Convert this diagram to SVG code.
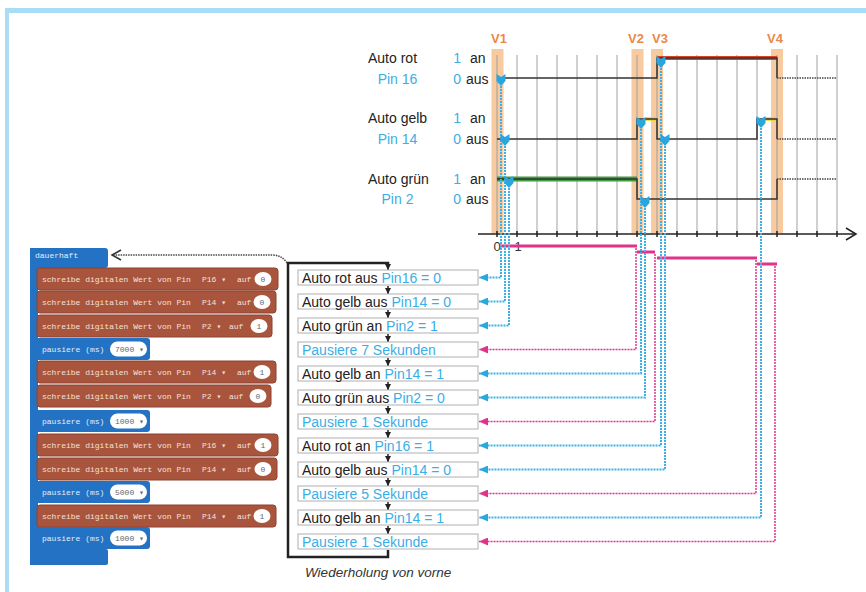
<svg xmlns="http://www.w3.org/2000/svg" width="866" height="592" viewBox="0 0 866 592">
<style>
.sans{font-family:"Liberation Sans",Arial,sans-serif}
.lbl{font-family:"Liberation Sans",Arial,sans-serif;font-size:14px;fill:#222}
.vl{font-family:"Liberation Sans",Arial,sans-serif;font-size:13px;font-weight:bold;fill:#e8894a;text-anchor:middle}
.grid{stroke:#a0a0a0;stroke-width:1}
.sig{stroke:#333;stroke-width:1.5;fill:none}
.dot{stroke:#444;stroke-width:1.5;stroke-dasharray:1.5 1;fill:none}
.band{fill:#f8caa0}
.bc{stroke:#3fb0e6;stroke-width:2;stroke-dasharray:2 1;fill:none;marker-end:url(#ab)}
.pc{stroke:#e2338c;stroke-width:1.5;stroke-dasharray:2 1;fill:none;marker-end:url(#ap)}
.bar{stroke:#e2338c;stroke-width:3}
.mk{fill:#2aa6df}
.box{fill:#fff;stroke:#b0b0b0;stroke-width:1}
.bt{font-family:"Liberation Sans",Arial,sans-serif;font-size:14px;fill:#222}
.mono{font-family:"Liberation Mono","DejaVu Sans Mono",monospace;font-size:8px}
.brown{fill:#a9553e;stroke:#8c4330;stroke-width:1}
.bluek{fill:#2472c4}
.wt{fill:#f4e0d8}
.wb{fill:#e3eef9}
.ovt{fill:#666;text-anchor:middle}
.loop{stroke:#222;stroke-width:2.5;fill:none}
.sa{stroke:#222;stroke-width:1.5;marker-end:url(#ak)}
.blu{fill:#3aaee6}
</style>
<defs>
<marker id="ab" markerUnits="userSpaceOnUse" markerWidth="9" markerHeight="8" refX="9" refY="4" orient="auto"><path d="M0,0 L9,4 L0,8 z" fill="#29a8e0"/></marker>
<marker id="ap" markerUnits="userSpaceOnUse" markerWidth="9" markerHeight="8" refX="9" refY="4" orient="auto"><path d="M0,0 L9,4 L0,8 z" fill="#e2338c"/></marker>
<marker id="ak" markerUnits="userSpaceOnUse" markerWidth="6" markerHeight="6" refX="6" refY="3" orient="auto"><path d="M0,0 L6,3 L0,6 z" fill="#222"/></marker>
<path id="mkr" d="M-4.5,-6 L0,-3 L4.5,-6 L4.5,1 L0,6 L-4.5,1 Z"/>
</defs>
<rect width="866" height="592" fill="#fff"/>
<rect x="5" y="8" width="861" height="5" fill="#a9ddf5"/>
<rect x="5" y="8" width="4" height="584" fill="#a9ddf5"/>

<g id="chart">
<rect class="band" x="491.5" y="49" width="12" height="184"/>
<rect class="band" x="631.5" y="49" width="12" height="184"/>
<rect class="band" x="651" y="49" width="12" height="184"/>
<rect class="band" x="771" y="49" width="12" height="184"/>
<text class="vl" x="499" y="43">V1</text>
<text class="vl" x="636" y="43">V2</text>
<text class="vl" x="660" y="43">V3</text>
<text class="vl" x="775" y="43">V4</text>
<g class="grid">
<line x1="497" y1="55" x2="497" y2="234"/><line x1="517" y1="55" x2="517" y2="234"/><line x1="537" y1="55" x2="537" y2="234"/><line x1="557" y1="55" x2="557" y2="234"/><line x1="577" y1="55" x2="577" y2="234"/><line x1="597" y1="55" x2="597" y2="234"/><line x1="617" y1="55" x2="617" y2="234"/><line x1="637" y1="55" x2="637" y2="234"/><line x1="657" y1="55" x2="657" y2="234"/><line x1="677" y1="55" x2="677" y2="234"/><line x1="697" y1="55" x2="697" y2="234"/><line x1="717" y1="55" x2="717" y2="234"/><line x1="737" y1="55" x2="737" y2="234"/><line x1="757" y1="55" x2="757" y2="234"/><line x1="777" y1="55" x2="777" y2="234"/><line x1="797" y1="55" x2="797" y2="234"/><line x1="817" y1="55" x2="817" y2="234"/><line x1="837" y1="55" x2="837" y2="234"/>
</g>
<line x1="478" y1="234" x2="856" y2="234" stroke="#222" stroke-width="1.5"/>
<polyline points="846,228 856,234 846,240" fill="none" stroke="#222" stroke-width="1.5"/>
<g stroke="#222" stroke-width="1.5">
<line x1="497" y1="231" x2="497" y2="237"/><line x1="517" y1="231" x2="517" y2="237"/><line x1="537" y1="231" x2="537" y2="237"/><line x1="557" y1="231" x2="557" y2="237"/><line x1="577" y1="231" x2="577" y2="237"/><line x1="597" y1="231" x2="597" y2="237"/><line x1="617" y1="231" x2="617" y2="237"/><line x1="637" y1="231" x2="637" y2="237"/><line x1="657" y1="231" x2="657" y2="237"/><line x1="677" y1="231" x2="677" y2="237"/><line x1="697" y1="231" x2="697" y2="237"/><line x1="717" y1="231" x2="717" y2="237"/><line x1="737" y1="231" x2="737" y2="237"/><line x1="757" y1="231" x2="757" y2="237"/><line x1="777" y1="231" x2="777" y2="237"/><line x1="797" y1="231" x2="797" y2="237"/><line x1="817" y1="231" x2="817" y2="237"/><line x1="837" y1="231" x2="837" y2="237"/>
</g>
<text class="sans" x="497" y="251" font-size="13" fill="#333" text-anchor="middle">0</text>
<text class="sans" x="518" y="251" font-size="13" fill="#333" text-anchor="middle">1</text>

<text class="lbl" x="368" y="63">Auto rot</text>
<text class="lbl blu" x="397.5" y="84" text-anchor="middle">Pin 16</text>
<text class="lbl" x="368" y="123">Auto gelb</text>
<text class="lbl blu" x="397.5" y="144" text-anchor="middle">Pin 14</text>
<text class="lbl" x="368" y="184">Auto grün</text>
<text class="lbl blu" x="397.5" y="204" text-anchor="middle">Pin 2</text>
<text class="lbl blu" x="461" y="63" text-anchor="end">1</text><text class="lbl" x="470" y="63">an</text>
<text class="lbl blu" x="461" y="84" text-anchor="end">0</text><text class="lbl" x="466" y="84">aus</text>
<text class="lbl blu" x="461" y="123" text-anchor="end">1</text><text class="lbl" x="470" y="123">an</text>
<text class="lbl blu" x="461" y="144" text-anchor="end">0</text><text class="lbl" x="466" y="144">aus</text>
<text class="lbl blu" x="461" y="184" text-anchor="end">1</text><text class="lbl" x="470" y="184">an</text>
<text class="lbl blu" x="461" y="204" text-anchor="end">0</text><text class="lbl" x="466" y="204">aus</text>

<line x1="657" y1="58" x2="777" y2="58" stroke="#d6452a" stroke-width="4"/>
<polyline class="sig" points="497,78 657,78 657,58 777,58 777,78"/>
<line class="dot" x1="777" y1="78" x2="837" y2="78"/>
<line x1="645" y1="119" x2="656" y2="119" stroke="#f0d020" stroke-width="3.5"/>
<line x1="765" y1="119" x2="776" y2="119" stroke="#f0d020" stroke-width="3.5"/>
<polyline class="sig" points="497,139 637,139 637,119 657,119 657,139 757,139 757,119 777,119 777,139"/>
<line class="dot" x1="777" y1="139" x2="837" y2="139"/>
<line x1="497" y1="179" x2="637" y2="179" stroke="#3c9e3c" stroke-width="5"/>
<polyline class="sig" points="497,179 637,179 637,199 777,199 777,179"/>
<line class="dot" x1="777" y1="179" x2="837" y2="179"/>
</g>

<g id="connectors">
<line class="bar" x1="500" y1="246" x2="637" y2="246"/>
<line class="bar" x1="637" y1="252" x2="655" y2="252"/>
<line class="bar" x1="657" y1="258" x2="757" y2="258"/>
<line class="bar" x1="757" y1="264" x2="777" y2="264"/>
<path class="pc" d="M636,248 V349.5 H479"/>
<path class="pc" d="M655,254 V421.5 H479"/>
<path class="pc" d="M756,260 V493.5 H479"/>
<path class="pc" d="M775,266 V541.5 H479"/>
<path class="bc" d="M501,86 V277.5 H479"/>
<path class="bc" d="M505,146 V301.5 H479"/>
<path class="bc" d="M509,188 V325.5 H479"/>
<path class="bc" d="M641,129 V373.5 H479"/>
<path class="bc" d="M645,208 V397.5 H479"/>
<path class="bc" d="M661,68 V445.5 H479"/>
<path class="bc" d="M665,146 V469.5 H479"/>
<path class="bc" d="M761,128 V517.5 H479"/>
<g class="mk">
<use href="#mkr" x="501" y="80"/>
<use href="#mkr" x="505" y="140"/>
<use href="#mkr" x="509" y="182"/>
<use href="#mkr" x="641" y="123"/>
<use href="#mkr" x="645" y="202"/>
<use href="#mkr" x="661" y="62"/>
<use href="#mkr" x="665" y="140"/>
<use href="#mkr" x="761" y="122"/>
</g>
<path class="loop" d="M388,550 V557 H288 V263 H388 V265"/>
<line class="sa" x1="388" y1="263" x2="388" y2="270"/>
<line class="sa" x1="388" y1="286" x2="388" y2="294"/>
<line class="sa" x1="388" y1="310" x2="388" y2="318"/>
<line class="sa" x1="388" y1="334" x2="388" y2="342"/>
<line class="sa" x1="388" y1="358" x2="388" y2="366"/>
<line class="sa" x1="388" y1="382" x2="388" y2="390"/>
<line class="sa" x1="388" y1="406" x2="388" y2="414"/>
<line class="sa" x1="388" y1="430" x2="388" y2="438"/>
<line class="sa" x1="388" y1="454" x2="388" y2="462"/>
<line class="sa" x1="388" y1="478" x2="388" y2="486"/>
<line class="sa" x1="388" y1="502" x2="388" y2="510"/>
<line class="sa" x1="388" y1="526" x2="388" y2="534"/>
<path class="dot" d="M287,263 Q282,255 272,255 H113"/>
<polyline points="121,250 112,255 121,260" fill="none" stroke="#333" stroke-width="1.5"/>
</g>

<g id="steps">
<g id="s1"><rect class="box" x="298" y="270" width="180" height="15"/><text class="bt" x="302" y="282.5">Auto rot aus <tspan class="blu">Pin16 = 0</tspan></text></g>
<g id="s2"><rect class="box" x="298" y="294" width="180" height="15"/><text class="bt" x="302" y="306.5">Auto gelb aus <tspan class="blu">Pin14 = 0</tspan></text></g>
<g id="s3"><rect class="box" x="298" y="318" width="180" height="15"/><text class="bt" x="302" y="330.5">Auto grün an <tspan class="blu">Pin2 = 1</tspan></text></g>
<g id="s4"><rect class="box" x="298" y="342" width="180" height="15"/><text class="bt blu" x="302" y="354.5">Pausiere 7 Sekunden</text></g>
<g id="s5"><rect class="box" x="298" y="366" width="180" height="15"/><text class="bt" x="302" y="378.5">Auto gelb an <tspan class="blu">Pin14 = 1</tspan></text></g>
<g id="s6"><rect class="box" x="298" y="390" width="180" height="15"/><text class="bt" x="302" y="402.5">Auto grün aus <tspan class="blu">Pin2 = 0</tspan></text></g>
<g id="s7"><rect class="box" x="298" y="414" width="180" height="15"/><text class="bt blu" x="302" y="426.5">Pausiere 1 Sekunde</text></g>
<g id="s8"><rect class="box" x="298" y="438" width="180" height="15"/><text class="bt" x="302" y="450.5">Auto rot an <tspan class="blu">Pin16 = 1</tspan></text></g>
<g id="s9"><rect class="box" x="298" y="462" width="180" height="15"/><text class="bt" x="302" y="474.5">Auto gelb aus <tspan class="blu">Pin14 = 0</tspan></text></g>
<g id="s10"><rect class="box" x="298" y="486" width="180" height="15"/><text class="bt blu" x="302" y="498.5">Pausiere 5 Sekunde</text></g>
<g id="s11"><rect class="box" x="298" y="510" width="180" height="15"/><text class="bt" x="302" y="522.5">Auto gelb an <tspan class="blu">Pin14 = 1</tspan></text></g>
<g id="s12"><rect class="box" x="298" y="534" width="180" height="15"/><text class="bt blu" x="302" y="546.5">Pausiere 1 Sekunde</text></g>
<text class="sans" x="305" y="577" font-size="13.5" font-style="italic" fill="#333">Wiederholung von vorne</text>
</g>

<g id="blocks">
<g id="forever">
<rect class="bluek" x="30" y="248" width="78" height="20" rx="3"/>
<rect class="bluek" x="30" y="248" width="8" height="317"/>
<rect class="bluek" x="30" y="549" width="78" height="16" rx="2"/>
<text class="mono wb" x="35" y="258">dauerhaft</text>
</g>
<g id="b1"><rect class="brown" x="37" y="268" width="241" height="22" rx="3"/><text class="mono wt" x="42" y="282">schreibe digitalen Wert von Pin</text><text class="mono wt" x="202" y="282">P16 ▾</text><text class="mono wt" x="237" y="282">auf</text><ellipse cx="263" cy="279" rx="8.5" ry="7" fill="#fff"/><text class="mono ovt" x="263" y="282">0</text></g>
<g id="b2"><rect class="brown" x="37" y="291" width="239" height="22" rx="3"/><text class="mono wt" x="42" y="305">schreibe digitalen Wert von Pin</text><text class="mono wt" x="202" y="305">P14 ▾</text><text class="mono wt" x="237" y="305">auf</text><ellipse cx="262" cy="302" rx="8.5" ry="7" fill="#fff"/><text class="mono ovt" x="262" y="305">0</text></g>
<g id="b3"><rect class="brown" x="37" y="315" width="235" height="22" rx="3"/><text class="mono wt" x="42" y="329">schreibe digitalen Wert von Pin</text><text class="mono wt" x="202" y="329">P2 ▾</text><text class="mono wt" x="229" y="329">auf</text><ellipse cx="259" cy="326" rx="8.5" ry="7" fill="#fff"/><text class="mono ovt" x="259" y="329">1</text></g>
<g id="p1"><rect class="bluek" x="30" y="338" width="120" height="22" rx="3"/><text class="mono wb" x="42" y="352">pausiere (ms)</text><rect x="110" y="341.5" width="37" height="15" rx="7.5" fill="#fff"/><text class="mono" x="115" y="352" fill="#666">7000 ▾</text></g>
<g id="b4"><rect class="brown" x="37" y="361" width="239" height="22" rx="3"/><text class="mono wt" x="42" y="375">schreibe digitalen Wert von Pin</text><text class="mono wt" x="202" y="375">P14 ▾</text><text class="mono wt" x="237" y="375">auf</text><ellipse cx="262" cy="372" rx="8.5" ry="7" fill="#fff"/><text class="mono ovt" x="262" y="375">1</text></g>
<g id="b5"><rect class="brown" x="37" y="385" width="234" height="22" rx="3"/><text class="mono wt" x="42" y="399">schreibe digitalen Wert von Pin</text><text class="mono wt" x="202" y="399">P2 ▾</text><text class="mono wt" x="229" y="399">auf</text><ellipse cx="258" cy="396" rx="8.5" ry="7" fill="#fff"/><text class="mono ovt" x="258" y="399">0</text></g>
<g id="p2"><rect class="bluek" x="30" y="410" width="120" height="22" rx="3"/><text class="mono wb" x="42" y="424">pausiere (ms)</text><rect x="110" y="413.5" width="37" height="15" rx="7.5" fill="#fff"/><text class="mono" x="115" y="424" fill="#666">1000 ▾</text></g>
<g id="b6"><rect class="brown" x="37" y="434" width="241" height="22" rx="3"/><text class="mono wt" x="42" y="448">schreibe digitalen Wert von Pin</text><text class="mono wt" x="202" y="448">P16 ▾</text><text class="mono wt" x="237" y="448">auf</text><ellipse cx="263" cy="445" rx="8.5" ry="7" fill="#fff"/><text class="mono ovt" x="263" y="448">1</text></g>
<g id="b7"><rect class="brown" x="37" y="458" width="240" height="22" rx="3"/><text class="mono wt" x="42" y="472">schreibe digitalen Wert von Pin</text><text class="mono wt" x="202" y="472">P14 ▾</text><text class="mono wt" x="237" y="472">auf</text><ellipse cx="263" cy="469" rx="8.5" ry="7" fill="#fff"/><text class="mono ovt" x="263" y="472">0</text></g>
<g id="p3"><rect class="bluek" x="30" y="481" width="120" height="22" rx="3"/><text class="mono wb" x="42" y="495">pausiere (ms)</text><rect x="110" y="484.5" width="37" height="15" rx="7.5" fill="#fff"/><text class="mono" x="115" y="495" fill="#666">5000 ▾</text></g>
<g id="b8"><rect class="brown" x="37" y="505" width="239" height="22" rx="3"/><text class="mono wt" x="42" y="519">schreibe digitalen Wert von Pin</text><text class="mono wt" x="202" y="519">P14 ▾</text><text class="mono wt" x="237" y="519">auf</text><ellipse cx="262" cy="516" rx="8.5" ry="7" fill="#fff"/><text class="mono ovt" x="262" y="519">1</text></g>
<g id="p4"><rect class="bluek" x="30" y="527" width="120" height="22" rx="3"/><text class="mono wb" x="42" y="541">pausiere (ms)</text><rect x="110" y="530.5" width="37" height="15" rx="7.5" fill="#fff"/><text class="mono" x="115" y="541" fill="#666">1000 ▾</text></g>
</g>
</svg>
